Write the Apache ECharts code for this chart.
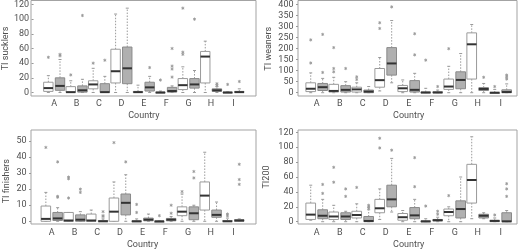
<!DOCTYPE html>
<html>
<head>
<meta charset="utf-8">
<script src="https://cdn.jsdelivr.net/npm/echarts@6/dist/echarts.min.js"></script>
<style>
  html, body { margin: 0; padding: 0; background: #fff; }
  #chart { width: 520px; height: 251px; }
</style>
</head>
<body>
<div id="chart"></div>
<script>
const countries = ['A', 'B', 'C', 'D', 'E', 'F', 'G', 'H', 'I'];

// [min, Q1, median, Q3, max] per country; *1 = open boxes, *2 = shaded boxes
const sucklers1 = [[0, 1.5, 6, 14, 23], [0, 0, 0.5, 8, 16], [0, 5, 11, 16, 33], [0, 13, 29, 59, 107], [0, 0, 0.5, 1.5, 10], [0, 0, 0, 0.5, 2], [0, 4, 10, 19, 35], [0, 13, 49, 56, 70], [0, 0, 0, 0.5, 1]];
const sucklers1Out = [[48], [24], [40], [], [], [17], [52, 55, 115], [], [11]];
const sucklers2 = [[0, 3, 9, 20, 45], [0, 0.5, 3, 9, 18], [0, 0, 0.5, 12, 22], [0, 12, 33, 62, 115], [0, 2, 7, 14, 22], [0, 0.5, 2, 7, 9], [0, 6, 11, 19, 30], [0, 1.5, 3, 5, 8], [0, 0, 0.5, 1.5, 5]];
const sucklers2Out = [[50, 52], [105], [44], [], [34], [21, 32, 36, 60], [100], [10, 12], [15]];

const weaners1 = [[0, 5, 18, 45, 90], [0, 3, 8, 38, 70], [0, 3, 15, 25, 45], [8, 25, 57, 110, 160], [0, 5, 20, 33, 58], [0, 0, 1, 3, 20], [0, 15, 28, 62, 120], [0, 62, 220, 272, 310], [0, 0, 0, 1, 15]];
const weaners1Out = [[135, 240], [95, 110, 205], [60, 72], [292, 318], [], [148], [200], [], [28]];
const weaners2 = [[0, 10, 25, 42, 65], [0, 3, 13, 32, 50], [0, 0, 5, 12, 28], [45, 80, 133, 205, 328], [0, 3, 13, 55, 88], [0, 0, 1, 4, 12], [0, 18, 58, 95, 178], [0, 10, 17, 23, 42], [0, 0, 3, 13, 40]];
const weaners2Out = [[92, 265], [110], [], [390], [172, 268], [28], [], [70], [62, 72, 80]];

const finishers1 = [[0, 0, 1.5, 9.5, 18], [0, 0, 0.5, 5.5, 5.5], [0, 0, 0.5, 4.5, 7], [0, 0, 6, 14.5, 24.5], [0, 0, 0, 0.3, 1.5], [0, 0, 0, 0, 0], [0, 3.5, 6, 9, 17], [0, 7, 16, 24.5, 43], [0, 0, 0, 0.5, 2]];
const finishers1Out = [[46], [14.5, 26.5, 27.5], [], [49], [5.5, 10.5], [3.5], [18.5], [], [3.5, 4.5]];
const finishers2 = [[0, 0.5, 1.8, 5.5, 8.5], [0, 0, 1, 4, 6], [0, 0, 0, 0.5, 1.5], [0, 4, 11.5, 17, 29], [0, 0.3, 1, 2, 4.5], [0, 0.3, 1, 1.8, 3], [0, 1, 5, 9, 10], [0, 2.5, 4, 7, 12], [0, 0, 0.5, 1, 1.5]];
const finishers2Out = [[15, 15.5, 37], [18, 20], [3, 3.5, 6], [37], [], [5, 10], [27, 31], [], [23, 26, 35.5]];

const ti200_1 = [[2, 3, 9.5, 25, 49], [0, 3, 7, 13, 22], [0, 5, 9, 14, 24], [3, 12, 18, 30, 44], [0, 2, 6, 11, 15], [0, 0, 0.5, 1, 4], [0, 8, 13, 17, 20], [4, 25, 56, 77, 114], [0, 0, 1, 2, 5]];
const ti200_1Out = [[], [53, 73], [46], [99, 112], [], [21], [35], [], [9]];
const ti200_2 = [[0, 4, 8, 16, 30], [0, 3, 7, 12, 14], [0, 0, 1, 7, 16], [13, 20, 30, 49, 85], [0, 4, 8.5, 19, 30], [0, 1, 2, 3, 6], [0, 5, 17, 28, 60], [4, 5, 8, 10, 12], [0, 0, 0.5, 12, 15]];
const ti200_2Out = [[38, 50], [34, 44], [18, 20, 22], [96], [47, 86], [10, 14], [], [], [34, 44, 51]];

const panels = [
  { title: 'TI sucklers', box1: sucklers1, out1: sucklers1Out, box2: sucklers2, out2: sucklers2Out, max: 120, interval: 20,
    frame: { left: 31, top: 0.5, width: 225, height: 95.5 }, plot: { left: 40.4, top: 3.7, width: 204.3, height: 88.8 }, nameGap: 20 },
  { title: 'TI weaners', box1: weaners1, out1: weaners1Out, box2: weaners2, out2: weaners2Out, max: 400, interval: 50,
    frame: { left: 298, top: 0.5, width: 219, height: 95.5 }, plot: { left: 305.2, top: 4.7, width: 207, height: 88 }, nameGap: 24.5 },
  { title: 'TI finishers', box1: finishers1, out1: finishers1Out, box2: finishers2, out2: finishers2Out, max: 50, interval: 10,
    frame: { left: 31, top: 130, width: 225, height: 94 }, plot: { left: 40.4, top: 141, width: 204.3, height: 80.3 }, nameGap: 20 },
  { title: 'TI200', box1: ti200_1, out1: ti200_1Out, box2: ti200_2, out2: ti200_2Out, max: 120, interval: 20,
    frame: { left: 298, top: 130, width: 219, height: 94 }, plot: { left: 305.2, top: 132.3, width: 207, height: 89.4 }, nameGap: 27 }
];

const textStyle = { fontFamily: 'Roboto', fontSize: 9, color: '#505050' };

// box + dotted whiskers, shifted left (side -1) or right (side 1) inside each category
function boxSeries(idx, rows, side, fill, stroke) {
  return {
    type: 'custom',
    xAxisIndex: idx,
    yAxisIndex: idx,
    data: rows.map((r, i) => [i].concat(r)),
    encode: { x: 0, y: [1, 2, 3, 4, 5] },
    renderItem: function (params, api) {
      const i = api.value(0);
      const band = api.size([1, 0])[0];
      const x = api.coord([i, 0])[0] + side * band * 0.26;
      const hw = band * 0.21;
      const y = [1, 2, 3, 4, 5].map(d => api.coord([i, api.value(d)])[1]);
      const whisker = { stroke: '#9a9a9a', lineWidth: 1, lineDash: [1.5, 1.5] };
      const cap = { stroke: '#9a9a9a', lineWidth: 1 };
      return {
        type: 'group',
        children: [
          { type: 'line', shape: { x1: x, y1: y[3], x2: x, y2: y[4] }, style: whisker },
          { type: 'line', shape: { x1: x, y1: y[1], x2: x, y2: y[0] }, style: whisker },
          { type: 'line', shape: { x1: x - 1.5, y1: y[4], x2: x + 1.5, y2: y[4] }, style: cap },
          { type: 'line', shape: { x1: x - 1.5, y1: y[0], x2: x + 1.5, y2: y[0] }, style: cap },
          { type: 'rect', shape: { x: x - hw, y: y[3], width: hw * 2, height: Math.max(y[1] - y[3], 1) },
            style: { fill: fill, stroke: stroke, lineWidth: 1 } },
          { type: 'line', shape: { x1: x - hw, y1: y[2], x2: x + hw, y2: y[2] }, style: { stroke: '#333', lineWidth: 2 } }
        ]
      };
    }
  };
}

// outliers drawn as small asterisks
function outlierSeries(idx, rows, side) {
  const pts = [];
  rows.forEach((vals, i) => vals.forEach(v => pts.push([i, v])));
  return {
    type: 'custom',
    xAxisIndex: idx,
    yAxisIndex: idx,
    data: pts,
    encode: { x: 0, y: 1 },
    renderItem: function (params, api) {
      const band = api.size([1, 0])[0];
      const p = api.coord([api.value(0), api.value(1)]);
      const x = p[0] + side * band * 0.26;
      const r = 1.6;
      return {
        type: 'group',
        children: [90, 30, 150].map(a => {
          const rad = a * Math.PI / 180;
          return {
            type: 'line',
            shape: { x1: x - r * Math.cos(rad), y1: p[1] - r * Math.sin(rad), x2: x + r * Math.cos(rad), y2: p[1] + r * Math.sin(rad) },
            style: { stroke: '#999999', lineWidth: 0.9 }
          };
        })
      };
    }
  };
}

const grids = [], xAxes = [], yAxes = [], series = [];
panels.forEach((p, i) => {
  grids.push(Object.assign({ show: true, borderColor: '#a3a3a3', borderWidth: 1, backgroundColor: 'transparent' }, p.frame));
  grids.push(Object.assign({ show: false }, p.plot));
  xAxes.push({
    type: 'category',
    gridIndex: i * 2 + 1,
    data: countries,
    axisLine: { show: false },
    axisTick: { show: false },
    axisLabel: Object.assign({ margin: 7 }, textStyle),
    name: 'Country',
    nameLocation: 'middle',
    nameGap: 19,
    nameTextStyle: textStyle
  });
  yAxes.push({
    type: 'value',
    gridIndex: i * 2 + 1,
    min: 0,
    max: p.max,
    interval: p.interval,
    offset: p.plot.left - p.frame.left,
    splitLine: { show: false },
    axisLine: { show: false },
    axisTick: { show: true, length: 2, lineStyle: { color: '#999' } },
    axisLabel: Object.assign({ margin: 4.5 }, textStyle),
    name: p.title,
    nameLocation: 'middle',
    nameGap: p.nameGap,
    nameTextStyle: textStyle
  });
  series.push(boxSeries(i, p.box1, -1, '#ffffff', '#9a9a9a'));
  series.push(boxSeries(i, p.box2, 1, '#b0b0b0', '#8a8a8a'));
  series.push(outlierSeries(i, p.out1, -1));
  series.push(outlierSeries(i, p.out2, 1));
});

const chart = echarts.init(document.getElementById('chart'));
chart.setOption({
  animation: false,
  backgroundColor: '#ffffff',
  grid: grids,
  xAxis: xAxes,
  yAxis: yAxes,
  series: series
});
</script>
</body>
</html>
